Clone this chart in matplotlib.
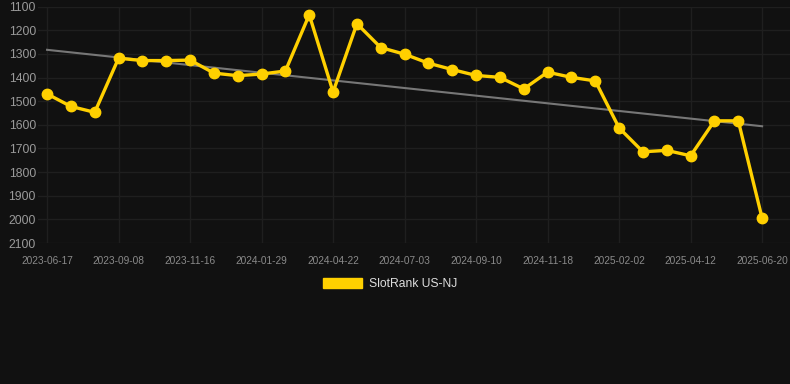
import matplotlib
matplotlib.use("Agg")
import matplotlib.pyplot as plt
import numpy as np
from matplotlib.patches import Patch

plt.rcParams['font.family'] = ['Liberation Sans', 'DejaVu Sans']

tick_labels = ["2023-06-17", "2023-09-08", "2023-11-16", "2024-01-29", "2024-04-22",
               "2024-07-03", "2024-09-10", "2024-11-18", "2025-02-02", "2025-04-12",
               "2025-06-20"]
ranks = [1469, 1522, 1547, 1318, 1328, 1328, 1326, 1381, 1392, 1385, 1372,
         1134, 1461, 1172, 1273, 1301, 1339, 1366, 1391, 1399, 1448, 1377,
         1399, 1414, 1613, 1714, 1708, 1731, 1583, 1583, 1995]
series_name = "SlotRank US-NJ"

bg = "#111111"
fig = plt.figure(figsize=(7.9, 3.84), dpi=100, facecolor=bg)
ax = fig.add_axes([38/790, 1 - 243/384, (790-38)/790, (243-6.7)/384])
ax.set_facecolor(bg)

x = np.arange(len(ranks))
coef = np.polyfit(x, ranks, 1)
trend = np.polyval(coef, x)
ax.plot(x, trend, color="#777777", lw=1.5, zorder=2)
ax.plot(x, ranks, color="#FFD000", lw=2.4, marker="o", markersize=7.5, zorder=3)

ax.set_ylim(2100, 1100)
ax.set_yticks(np.arange(1100, 2101, 100))
ax.set_xlim(-0.38, 31.17)
ax.set_xticks(x[::3])
ax.set_xticklabels(tick_labels)

ax.grid(True, color="#1f1f1f", lw=1.0)
for s in ax.spines.values():
    s.set_visible(False)
ax.tick_params(axis='y', length=0, pad=1.5, labelsize=8.7, labelcolor="#9a9a9a")
ax.tick_params(axis='x', length=0, pad=9, labelsize=7.3, labelcolor="#8a8a8a")

handles = [Patch(facecolor="#FFD000", edgecolor="#FFD000")]
leg = fig.legend(handles, [series_name], loc="center", bbox_to_anchor=(390/790, 1 - 284/384),
                 frameon=False, handlelength=3.25, handleheight=0.95, fontsize=8.7,
                 labelcolor="#dddddd", handletextpad=0.6)

fig.savefig("out.png", dpi=100, facecolor=bg)
